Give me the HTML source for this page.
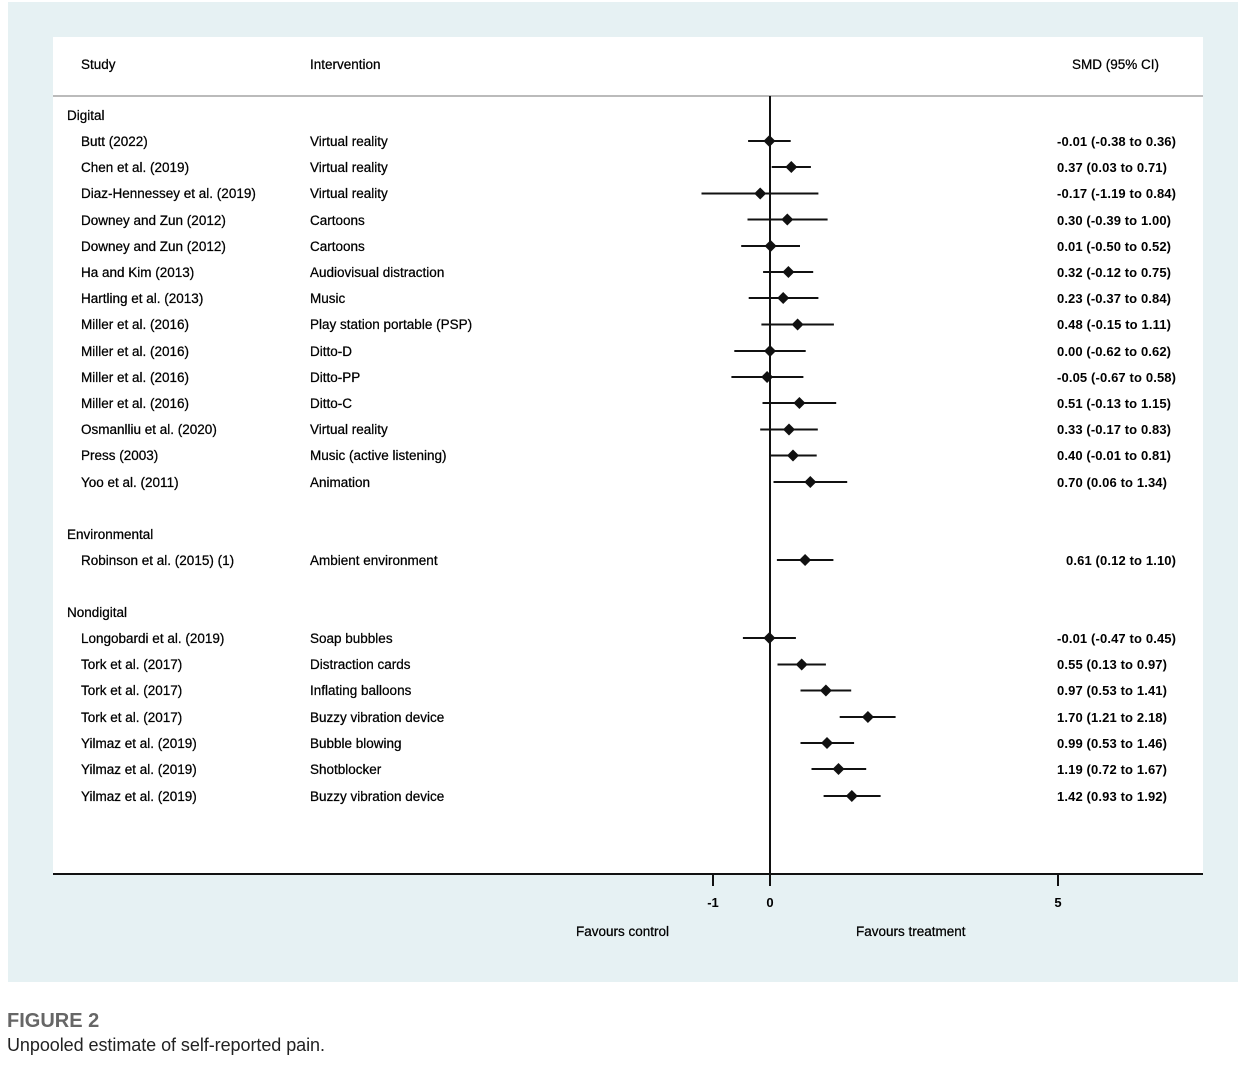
<!DOCTYPE html>
<html><head><meta charset="utf-8"><style>
body{margin:0;background:#fff;width:1249px;height:1070px;overflow:hidden}
svg{display:block}
text{font-family:"Liberation Sans",Arial,sans-serif;font-size:13.5px;fill:#000;stroke:#000;stroke-width:0.25}
.v{font-weight:bold;font-size:13px;stroke-width:0}
</style></head><body>
<svg width="1249" height="1070" viewBox="0 0 1249 1070">
<rect x="8" y="2" width="1230" height="980" fill="#e6f1f3"/>
<rect x="53" y="37" width="1150" height="837" fill="#fff"/>
<line x1="53" y1="96" x2="1203" y2="96" stroke="#bbb" stroke-width="2"/>
<line x1="53" y1="874" x2="1203" y2="874" stroke="#111" stroke-width="2"/>
<line x1="770" y1="96" x2="770" y2="886" stroke="#111" stroke-width="2"/>
<line x1="713" y1="874" x2="713" y2="886" stroke="#111" stroke-width="2"/>
<line x1="1058" y1="874" x2="1058" y2="886" stroke="#111" stroke-width="2"/>
<text x="713" y="907" text-anchor="middle" font-weight="bold" style="font-size:13px;stroke-width:0">-1</text>
<text x="770" y="907" text-anchor="middle" font-weight="bold" style="font-size:13px;stroke-width:0">0</text>
<text x="1058" y="907" text-anchor="middle" font-weight="bold" style="font-size:13px;stroke-width:0">5</text>
<text x="576" y="936">Favours control</text>
<text x="856" y="936">Favours treatment</text>
<text x="81" y="69">Study</text>
<text x="310" y="69">Intervention</text>
<text x="1072" y="69">SMD (95% CI)</text>
<text x="67" y="120">Digital</text>
<text x="67" y="539">Environmental</text>
<text x="67" y="617">Nondigital</text>
<g>
<text x="81" y="146">Butt (2022)</text><text x="310" y="146">Virtual reality</text>
<text x="81" y="172">Chen et al. (2019)</text><text x="310" y="172">Virtual reality</text>
<text x="81" y="198">Diaz-Hennessey et al. (2019)</text><text x="310" y="198">Virtual reality</text>
<text x="81" y="225">Downey and Zun (2012)</text><text x="310" y="225">Cartoons</text>
<text x="81" y="251">Downey and Zun (2012)</text><text x="310" y="251">Cartoons</text>
<text x="81" y="277">Ha and Kim (2013)</text><text x="310" y="277">Audiovisual distraction</text>
<text x="81" y="303">Hartling et al. (2013)</text><text x="310" y="303">Music</text>
<text x="81" y="329">Miller et al. (2016)</text><text x="310" y="329">Play station portable (PSP)</text>
<text x="81" y="356">Miller et al. (2016)</text><text x="310" y="356">Ditto-D</text>
<text x="81" y="382">Miller et al. (2016)</text><text x="310" y="382">Ditto-PP</text>
<text x="81" y="408">Miller et al. (2016)</text><text x="310" y="408">Ditto-C</text>
<text x="81" y="434">Osmanlliu et al. (2020)</text><text x="310" y="434">Virtual reality</text>
<text x="81" y="460">Press (2003)</text><text x="310" y="460">Music (active listening)</text>
<text x="81" y="487">Yoo et al. (2011)</text><text x="310" y="487">Animation</text>
<text x="81" y="565">Robinson et al. (2015) (1)</text><text x="310" y="565">Ambient environment</text>
<text x="81" y="643">Longobardi et al. (2019)</text><text x="310" y="643">Soap bubbles</text>
<text x="81" y="669">Tork et al. (2017)</text><text x="310" y="669">Distraction cards</text>
<text x="81" y="695">Tork et al. (2017)</text><text x="310" y="695">Inflating balloons</text>
<text x="81" y="722">Tork et al. (2017)</text><text x="310" y="722">Buzzy vibration device</text>
<text x="81" y="748">Yilmaz et al. (2019)</text><text x="310" y="748">Bubble blowing</text>
<text x="81" y="774">Yilmaz et al. (2019)</text><text x="310" y="774">Shotblocker</text>
<text x="81" y="801">Yilmaz et al. (2019)</text><text x="310" y="801">Buzzy vibration device</text>
</g>
<g class="vals">
<text class="v" x="1057" y="146" textLength="119">-0.01 (-0.38 to 0.36)</text>
<text class="v" x="1057" y="172" textLength="110">0.37 (0.03 to 0.71)</text>
<text class="v" x="1057" y="198" textLength="119">-0.17 (-1.19 to 0.84)</text>
<text class="v" x="1057" y="225" textLength="114">0.30 (-0.39 to 1.00)</text>
<text class="v" x="1057" y="251" textLength="114">0.01 (-0.50 to 0.52)</text>
<text class="v" x="1057" y="277" textLength="114">0.32 (-0.12 to 0.75)</text>
<text class="v" x="1057" y="303" textLength="114">0.23 (-0.37 to 0.84)</text>
<text class="v" x="1057" y="329" textLength="114">0.48 (-0.15 to 1.11)</text>
<text class="v" x="1057" y="356" textLength="114">0.00 (-0.62 to 0.62)</text>
<text class="v" x="1057" y="382" textLength="119">-0.05 (-0.67 to 0.58)</text>
<text class="v" x="1057" y="408" textLength="114">0.51 (-0.13 to 1.15)</text>
<text class="v" x="1057" y="434" textLength="114">0.33 (-0.17 to 0.83)</text>
<text class="v" x="1057" y="460" textLength="114">0.40 (-0.01 to 0.81)</text>
<text class="v" x="1057" y="487" textLength="110">0.70 (0.06 to 1.34)</text>
<text class="v" x="1066" y="565" textLength="110">0.61 (0.12 to 1.10)</text>
<text class="v" x="1057" y="643" textLength="119">-0.01 (-0.47 to 0.45)</text>
<text class="v" x="1057" y="669" textLength="110">0.55 (0.13 to 0.97)</text>
<text class="v" x="1057" y="695" textLength="110">0.97 (0.53 to 1.41)</text>
<text class="v" x="1057" y="722" textLength="110">1.70 (1.21 to 2.18)</text>
<text class="v" x="1057" y="748" textLength="110">0.99 (0.53 to 1.46)</text>
<text class="v" x="1057" y="774" textLength="110">1.19 (0.72 to 1.67)</text>
<text class="v" x="1057" y="801" textLength="110">1.42 (0.93 to 1.92)</text>
</g>
<g stroke="#111" stroke-width="2">
<line x1="748.1" y1="141" x2="790.7" y2="141"/>
<line x1="771.7" y1="167" x2="810.9" y2="167"/>
<line x1="701.5" y1="193.5" x2="818.4" y2="193.5"/>
<line x1="747.5" y1="219.5" x2="827.6" y2="219.5"/>
<line x1="741.2" y1="246" x2="800" y2="246"/>
<line x1="763.1" y1="272" x2="813.2" y2="272"/>
<line x1="748.7" y1="298" x2="818.4" y2="298"/>
<line x1="761.4" y1="324.5" x2="833.9" y2="324.5"/>
<line x1="734.3" y1="351" x2="805.7" y2="351"/>
<line x1="731.4" y1="377" x2="803.4" y2="377"/>
<line x1="762.5" y1="403" x2="836.2" y2="403"/>
<line x1="760.2" y1="429.5" x2="817.8" y2="429.5"/>
<line x1="769.4" y1="455.5" x2="816.7" y2="455.5"/>
<line x1="773.5" y1="482" x2="847.2" y2="482"/>
<line x1="776.9" y1="560" x2="833.4" y2="560"/>
<line x1="742.9" y1="638" x2="795.9" y2="638"/>
<line x1="777.5" y1="664.5" x2="825.9" y2="664.5"/>
<line x1="800.5" y1="690.5" x2="851.2" y2="690.5"/>
<line x1="839.7" y1="717" x2="895.6" y2="717"/>
<line x1="800.5" y1="743" x2="854.1" y2="743"/>
<line x1="811.5" y1="769" x2="866.2" y2="769"/>
<line x1="823.6" y1="796" x2="880.6" y2="796"/>
</g>
<g fill="#111">
<path d="M769.4 135l6 6-6 6-6-6z"/>
<path d="M791.3 161l6 6-6 6-6-6z"/>
<path d="M760.2 187.5l6 6-6 6-6-6z"/>
<path d="M787.3 213.5l6 6-6 6-6-6z"/>
<path d="M770.6 240l6 6-6 6-6-6z"/>
<path d="M788.4 266l6 6-6 6-6-6z"/>
<path d="M783.2 292l6 6-6 6-6-6z"/>
<path d="M797.6 318.5l6 6-6 6-6-6z"/>
<path d="M770 345l6 6-6 6-6-6z"/>
<path d="M767.1 371l6 6-6 6-6-6z"/>
<path d="M799.4 397l6 6-6 6-6-6z"/>
<path d="M789 423.5l6 6-6 6-6-6z"/>
<path d="M793 449.5l6 6-6 6-6-6z"/>
<path d="M810.3 476l6 6-6 6-6-6z"/>
<path d="M805.1 554l6 6-6 6-6-6z"/>
<path d="M769.4 632l6 6-6 6-6-6z"/>
<path d="M801.7 658.5l6 6-6 6-6-6z"/>
<path d="M825.9 684.5l6 6-6 6-6-6z"/>
<path d="M867.9 711l6 6-6 6-6-6z"/>
<path d="M827 737l6 6-6 6-6-6z"/>
<path d="M838.5 763l6 6-6 6-6-6z"/>
<path d="M851.8 790l6 6-6 6-6-6z"/>
</g>
<text x="7" y="1027" style="font-family:'Liberation Sans Narrow','Liberation Sans',sans-serif;font-size:20px;font-weight:bold;fill:#666;stroke-width:0">FIGURE 2</text>
<text x="7" y="1051" style="font-size:18px;fill:#222;stroke-width:0" textLength="318">Unpooled estimate of self-reported pain.</text>
</svg>
</body></html>
